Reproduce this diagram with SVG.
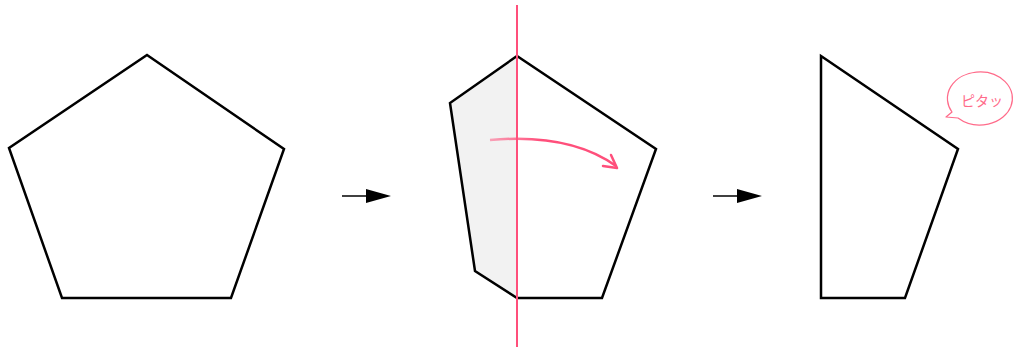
<svg xmlns="http://www.w3.org/2000/svg" width="1016" height="347" viewBox="0 0 1016 347">
<style>
.shape{fill:none;stroke:#000;stroke-width:2.5;stroke-linejoin:miter}
.step{stroke:#000;stroke-width:1.5}
.pink{stroke:#ff4f7b;fill:none}
</style>
<defs>
<linearGradient id="fade" x1="490" y1="0" x2="540" y2="0" gradientUnits="userSpaceOnUse">
<stop offset="0" stop-color="#ff4f7b" stop-opacity="0.5"/>
<stop offset="1" stop-color="#ff4f7b" stop-opacity="1"/>
</linearGradient>
</defs>
<rect width="1016" height="347" fill="#fff"/>
<g id="pentagon">
<polygon class="shape" points="147,55 284,149 231,298 62,298 9,148"/>
</g>
<g id="folding">
<polygon points="517,56 450,103 475,271 517,298" fill="#f2f2f2"/>
<polygon class="shape" points="517,56 450,103 475,271 517,298 602,298 656,149"/>
<line class="pink" x1="517" y1="5" x2="517" y2="347" stroke-width="2"/>
<path d="M490,140 Q570,133 616,166" fill="none" stroke="url(#fade)" stroke-width="2.5"/>
<path class="pink" d="M611,155 L617,168 L603,166" stroke-width="2.5" stroke-linejoin="round" stroke-linecap="round"/>
</g>
<g id="result">
<polygon class="shape" points="821,56 958,149 905,298 821,298"/>
</g>
<g id="bubble">
<path d="M952,112 A32.5,26.5 0 1 1 958,118 L946,117 Z" fill="#fff" stroke="#ff6b8a" stroke-width="1.2" stroke-linejoin="round"/>
<text x="982" y="106" font-family="'Noto Sans CJK JP', sans-serif" font-size="14" fill="#ff6b8a" text-anchor="middle">ピタッ</text>
</g>
<g id="connectors">
<line class="step" x1="342" y1="196" x2="368" y2="196"/>
<polygon points="366,189 391,196 366,203" fill="#000"/>
<line class="step" x1="713" y1="196" x2="739" y2="196"/>
<polygon points="737,189 762,196 737,203" fill="#000"/>
</g>
</svg>
